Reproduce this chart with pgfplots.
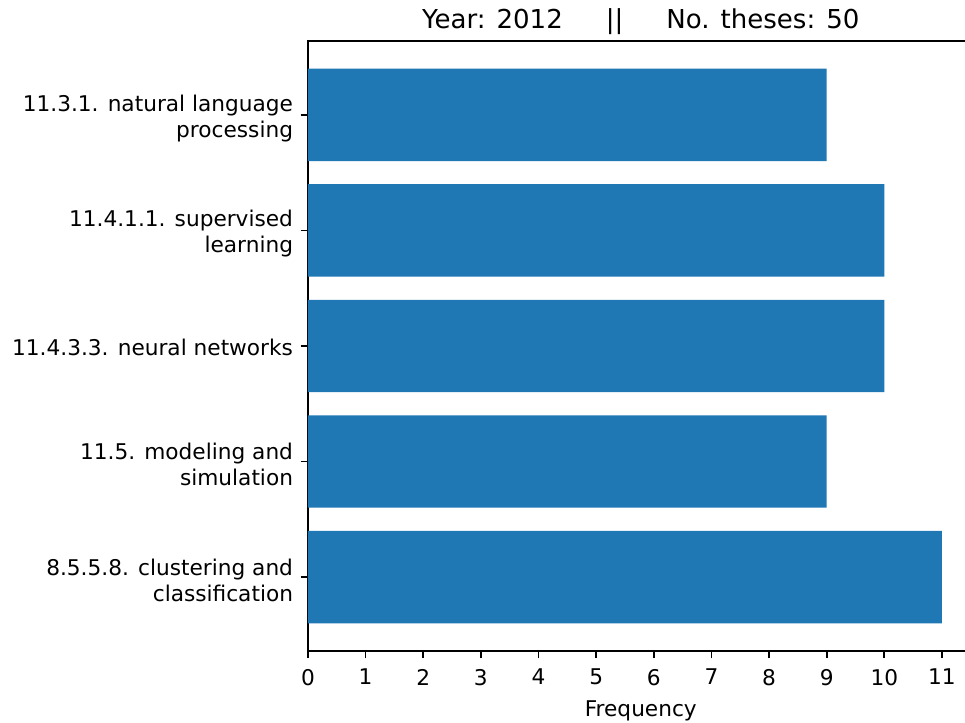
\documentclass[border=0pt]{standalone}
\usepackage{pgfplots}
\pgfplotsset{compat=1.18}
\usepackage{fontspec}
\setmainfont{DejaVu Sans}
\definecolor{mplblue}{HTML}{1F77B4}
\begin{document}
\begin{tikzpicture}
\begin{axis}[
  at={(0,0)}, anchor=south west,
  scale only axis,
  width=319.5pt, height=292.8pt,
  xmin=0, xmax=11.55,
  ymin=-0.64, ymax=4.64,
  xtick={0,1,...,11},
  ytick={0,1,2,3,4},
  yticklabels={{8.5.5.8. clustering and\\classification},{11.5. modeling and\\simulation},{\raisebox{1.6pt}{11.4.3.3. neural networks}},{11.4.1.1. supervised\\learning},{11.3.1. natural language\\processing}},
  yticklabel style={align=right, font=\fontsize{10.4}{12.5}\selectfont, inner sep=0pt, xshift=-3.5pt, yshift=-1.6pt},
  xticklabel style={font=\fontsize{10.4}{12.5}\selectfont, inner sep=0pt, yshift=-5pt},
  /pgf/number format/assume math mode=true,
  tick align=outside,
  major tick length=3.5pt,
  xtick pos=bottom, ytick pos=left,
  every tick/.style={black, line width=0.8pt},
  axis line style={line width=0.8pt},
  xlabel={Frequency},
  xlabel style={font=\fontsize{10.4}{12.5}\selectfont, yshift=-4pt},
  title={Year: 2012\hspace{1.65em}||\hspace{1.65em}No. theses: 50},
  title style={font=\fontsize{12.5}{15}\selectfont, anchor=base, at={(0.5,1)}, yshift=0pt},
]
\addplot[xbar, fill=mplblue, draw=none, bar width=0.8] coordinates {(11,0) (9,1) (10,2) (10,3) (9,4)};
\end{axis}
\pgfresetboundingbox
\useasboundingbox (-147.84pt,-34.56pt) rectangle (315.36pt,312.48pt);
\end{tikzpicture}
\end{document}
